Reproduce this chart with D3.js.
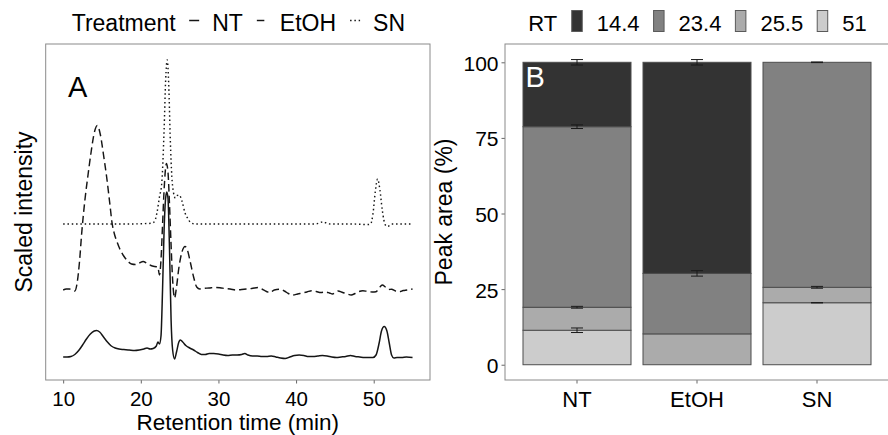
<!DOCTYPE html>
<html>
<head>
<meta charset="utf-8">
<script src="https://cdn.jsdelivr.net/npm/d3@7"></script>
<style>
  html, body { margin: 0; padding: 0; background: #fff; }
  svg text { font-family: "Liberation Sans", Arial, Helvetica, sans-serif; fill: #000; }
</style>
</head>
<body>
<svg id="chart" width="888" height="435"></svg>
<script>
// ---------- Panel A: chromatograms (scaled intensity, traces stacked by offset) ----------
const treatments = ["NT", "EtOH", "SN"];
const timeTicks = [10, 20, 30, 40, 50];

// [retention time (min), scaled intensity]
const ntTrace = [
  [10.0, 0], [10.5, 0], [11.0, 0.005], [11.5, 0.025], [12.0, 0.065], [12.5, 0.12],
  [13.0, 0.18], [13.5, 0.23], [14.0, 0.26], [14.3, 0.265], [14.7, 0.25], [15.2, 0.20],
  [15.7, 0.15], [16.2, 0.11], [16.7, 0.09], [17.2, 0.08], [17.8, 0.075], [18.5, 0.07],
  [19.2, 0.065], [19.8, 0.07], [20.4, 0.08], [20.8, 0.09], [21.2, 0.08], [21.6, 0.085],
  [22.0, 0.11], [22.2, 0.15], [22.4, 0.13], [22.6, 0.21], [22.8, 0.67], [23.0, 1.27],
  [23.2, 1.59], [23.35, 1.65], [23.5, 1.59], [23.7, 1.07], [23.9, 0.37], [24.1, 0.07],
  [24.35, -0.02], [24.6, 0.05], [24.9, 0.15], [25.1, 0.17], [25.4, 0.15], [25.8, 0.115],
  [26.3, 0.09], [26.8, 0.07], [27.3, 0.045], [27.8, 0.025], [28.3, 0.025], [28.8, 0.035],
  [29.4, 0.035], [30.0, 0.03], [30.6, 0.02], [31.2, 0.015], [31.8, 0.02], [32.4, 0.02],
  [33.0, 0.025], [33.4, 0.035], [33.8, 0.02], [34.4, 0.01], [35.0, 0.01], [35.6, 0.005],
  [36.2, 0.005], [36.8, 0.01], [37.4, 0], [38.0, -0.01], [38.6, -0.015], [39.2, 0],
  [39.8, 0.015], [40.4, 0.02], [41.0, 0.015], [41.6, 0.005], [42.2, 0.005], [42.8, 0.01],
  [43.4, 0.015], [44.0, 0.01], [44.6, 0], [45.2, -0.005], [45.8, 0], [46.4, 0.005],
  [47.0, 0.015], [47.6, 0.005], [48.2, 0], [48.8, -0.005], [49.4, -0.005], [49.9, -0.005],
  [50.3, 0.02], [50.7, 0.14], [51.0, 0.26], [51.35, 0.305], [51.7, 0.26], [52.0, 0.14],
  [52.3, 0.02], [52.6, -0.01], [53.0, -0.005], [53.6, -0.005], [54.2, 0], [55.0, -0.005]
];

const etohTrace = [
  [10.0, 0.67], [10.4, 0.68], [10.8, 0.68], [11.2, 0.67], [11.5, 0.66], [11.8, 0.74],
  [12.1, 0.95], [12.4, 1.25], [12.8, 1.57], [13.2, 1.82], [13.6, 2.05], [14.0, 2.24],
  [14.4, 2.315], [14.8, 2.22], [15.2, 2.02], [15.6, 1.80], [16.0, 1.54], [16.3, 1.34],
  [16.6, 1.23], [16.9, 1.16], [17.3, 1.08], [17.8, 1.01], [18.3, 0.96], [18.8, 0.93],
  [19.3, 0.925], [19.8, 0.94], [20.3, 0.955], [20.8, 0.935], [21.3, 0.915], [21.8, 0.905],
  [22.2, 0.90], [22.4, 0.82], [22.6, 0.97], [22.8, 1.32], [23.0, 1.67], [23.3, 1.935],
  [23.5, 1.85], [23.7, 1.52], [23.9, 1.12], [24.1, 0.77], [24.35, 0.59], [24.6, 0.70],
  [24.9, 0.89], [25.3, 1.05], [25.7, 1.105], [26.0, 1.07], [26.4, 0.94], [26.8, 0.80],
  [27.2, 0.70], [27.6, 0.68], [28.1, 0.687], [28.8, 0.69], [29.5, 0.695], [30.2, 0.693],
  [30.8, 0.685], [31.5, 0.68], [32.3, 0.67], [33.0, 0.675], [33.6, 0.68], [34.3, 0.685],
  [35.1, 0.695], [35.7, 0.675], [36.2, 0.655], [36.6, 0.643], [37.2, 0.67], [37.9, 0.677],
  [38.5, 0.66], [39.0, 0.635], [39.6, 0.62], [40.2, 0.63], [40.8, 0.64], [41.4, 0.65],
  [42.0, 0.663], [42.6, 0.655], [43.2, 0.645], [43.8, 0.65], [44.3, 0.64], [44.7, 0.63],
  [45.4, 0.66], [46.0, 0.645], [46.6, 0.63], [47.1, 0.62], [47.6, 0.635], [48.1, 0.655],
  [48.6, 0.663], [49.2, 0.655], [49.8, 0.65], [50.3, 0.653], [50.7, 0.69], [51.1, 0.72],
  [51.5, 0.70], [51.9, 0.675], [52.3, 0.677], [52.8, 0.66], [53.3, 0.653], [53.8, 0.665],
  [54.3, 0.67], [54.8, 0.677], [55.0, 0.68]
];

const snTrace = [
  [10.0, 1.33], [14.0, 1.33], [18.0, 1.33], [21.0, 1.335], [21.5, 1.34], [21.8, 1.36],
  [22.1, 1.45], [22.4, 1.60], [22.7, 1.74], [23.0, 2.27], [23.2, 2.77], [23.4, 2.97],
  [23.6, 2.72], [23.8, 2.17], [24.0, 1.80], [24.2, 1.65], [24.45, 1.59], [24.7, 1.615],
  [24.95, 1.62], [25.3, 1.56], [25.7, 1.44], [26.1, 1.38], [26.4, 1.345], [27.0, 1.33],
  [32.0, 1.33], [38.0, 1.33], [42.5, 1.33], [43.0, 1.34], [43.5, 1.353], [44.0, 1.335],
  [44.5, 1.33], [47.0, 1.33], [49.3, 1.325], [49.6, 1.33], [49.9, 1.43], [50.2, 1.65],
  [50.5, 1.78], [50.8, 1.67], [51.1, 1.47], [51.5, 1.32], [51.8, 1.305], [52.3, 1.33],
  [55.0, 1.33]
];

// ---------- Panel B: relative peak area (%) per retention-time peak ----------
const rtLabels = ["14.4", "23.4", "25.5", "51"];
const area14_4 = [21.3, 69.8, 0];
const area23_4 = [59.7, 20.0, 74.4];
const area25_5 = [7.6, 10.2, 5.1];
const area51   = [11.4, 0, 20.5];
// standard errors (null = no error bar)
const err14_4 = [0.9, 0.9, null];
const err23_4 = [0.6, 0.9, 0.1];
const err25_5 = [0.3, null, 0.3];
const err51   = [0.75, null, 0.05];
const areaTicks = [0, 25, 50, 75, 100];

const rtFill = ["#333333", "#818181", "#ababab", "#cccccc"];

const svg = d3.select("#chart");
const FONT_TICK = 20.5, FONT_TITLE = 22.5;
const borderColor = "#8a8a8a";
const lineColor = "#151515";

// ======================= Panel A =======================
const pA = { left: 45.7, right: 430, top: 44, bottom: 380 };
const xA = d3.scaleLinear().domain([7.75, 57.25]).range([pA.left, pA.right]);
const yA = d3.scaleLinear().domain([-0.23, 3.13]).range([pA.bottom, pA.top]);

const traces = [
  { name: "NT", data: ntTrace, dash: null, width: 1.5 },
  { name: "EtOH", data: etohTrace, dash: "7.5,4", width: 1.45 },
  { name: "SN", data: snTrace, dash: "1.5,2.8", width: 1.45 }
];

const line = d3.line()
  .x(d => xA(d[0]))
  .y(d => yA(d[1]))
  .curve(d3.curveMonotoneX);

const gA = svg.append("g");
gA.selectAll("path.trace")
  .data(traces)
  .join("path")
  .attr("class", "trace")
  .attr("d", d => line(d.data))
  .attr("fill", "none")
  .attr("stroke", lineColor)
  .attr("stroke-width", d => d.width)
  .attr("stroke-dasharray", d => d.dash);

// x axis
const axA = gA.append("g")
  .attr("transform", `translate(0,${pA.bottom})`)
  .call(d3.axisBottom(xA).tickValues(timeTicks).tickSize(3.5).tickPadding(7.5).tickFormat(d3.format("d")));
axA.select(".domain").remove();
axA.selectAll(".tick line").attr("stroke", "#666");
axA.selectAll(".tick text").attr("font-size", FONT_TICK).attr("fill", "#000").attr("dy", "0.72em");

gA.append("rect")
  .attr("x", pA.left).attr("y", pA.top)
  .attr("width", pA.right - pA.left).attr("height", pA.bottom - pA.top)
  .attr("fill", "none").attr("stroke", borderColor).attr("stroke-width", 1);

gA.append("text").attr("x", 68).attr("y", 96.5).attr("font-size", 29).text("A");

svg.append("text")
  .attr("x", (pA.left + pA.right) / 2).attr("y", 430.3)
  .attr("text-anchor", "middle").attr("font-size", FONT_TITLE)
  .text("Retention time (min)");
svg.append("text")
  .attr("transform", `translate(31.5,${(pA.top + pA.bottom) / 2}) rotate(-90)`)
  .attr("text-anchor", "middle").attr("font-size", 23)
  .text("Scaled intensity");

// legend for line types
(function () {
  const g = svg.append("g");
  const baseY = 30.5, fs = 23;
  let x = 71.7;
  const title = g.append("text").attr("x", x).attr("y", baseY).attr("font-size", fs).text("Treatment");
  x += title.node().getComputedTextLength() + 13.5;
  traces.forEach(tr => {
    g.append("line")
      .attr("x1", x).attr("x2", x + 10).attr("y1", 20.5).attr("y2", 20.5)
      .attr("stroke", lineColor).attr("stroke-width", tr.width)
      .attr("stroke-dasharray", tr.dash);
    const t = g.append("text").attr("x", x + 23).attr("y", baseY).attr("font-size", fs).text(tr.name);
    x += 23 + t.node().getComputedTextLength() + 14;
  });
})();

// ======================= Panel B =======================
const pB = { left: 505, right: 889, top: 44, bottom: 380 };
const xB = d3.scaleBand().domain(treatments).range([pB.left, pB.right]).paddingInner(0.1).paddingOuter(0.15);
const yB = d3.scaleLinear().domain([-5.05, 106.05]).range([pB.bottom, pB.top]);

// bottom-to-top stacking order
const stackKeys = ["51", "25.5", "23.4", "14.4"];
const areaByRt = { "14.4": area14_4, "23.4": area23_4, "25.5": area25_5, "51": area51 };
const errByRt = { "14.4": err14_4, "23.4": err23_4, "25.5": err25_5, "51": err51 };
const fillByRt = {};
rtLabels.forEach((k, i) => fillByRt[k] = rtFill[i]);

const table = treatments.map((t, i) => {
  const row = { treatment: t };
  stackKeys.forEach(k => row[k] = areaByRt[k][i]);
  return row;
});
const stacked = d3.stack().keys(stackKeys)(table);

const gB = svg.append("g");
stacked.forEach(layer => {
  gB.append("g").selectAll("rect")
    .data(layer.filter(d => d[1] - d[0] > 0))
    .join("rect")
    .attr("x", d => xB(d.data.treatment))
    .attr("width", xB.bandwidth())
    .attr("y", d => yB(d[1]))
    .attr("height", d => yB(d[0]) - yB(d[1]))
    .attr("fill", fillByRt[layer.key])
    .attr("stroke", "#4d4d4d")
    .attr("stroke-width", 1);
});

// error bars at each cumulative segment top
stacked.forEach(layer => {
  const errs = errByRt[layer.key];
  layer.forEach((d, i) => {
    const e = errs[i];
    if (e == null) return;
    const cx = xB(d.data.treatment) + xB.bandwidth() / 2;
    const top = yB(d[1] + e), bot = yB(d[1] - e);
    const g = gB.append("g").attr("stroke", "#1a1a1a").attr("stroke-width", 1);
    g.append("line").attr("x1", cx).attr("x2", cx).attr("y1", top).attr("y2", bot);
    g.append("line").attr("x1", cx - 6).attr("x2", cx + 6).attr("y1", top).attr("y2", top);
    g.append("line").attr("x1", cx - 6).attr("x2", cx + 6).attr("y1", bot).attr("y2", bot);
  });
});

const axBx = gB.append("g")
  .attr("transform", `translate(0,${pB.bottom})`)
  .call(d3.axisBottom(xB).tickSize(3.5).tickPadding(8));
axBx.select(".domain").remove();
axBx.selectAll(".tick line").attr("stroke", "#666");
axBx.selectAll(".tick text").attr("font-size", 22).attr("fill", "#000").attr("dy", "0.72em");

const axBy = gB.append("g")
  .attr("transform", `translate(${pB.left},0)`)
  .call(d3.axisLeft(yB).tickValues(areaTicks).tickSize(3.5).tickPadding(3));
axBy.select(".domain").remove();
axBy.selectAll(".tick line").attr("stroke", "#666");
axBy.selectAll(".tick text").attr("font-size", 21).attr("fill", "#000").attr("dy", "0.38em");

gB.append("rect")
  .attr("x", pB.left).attr("y", pB.top)
  .attr("width", pB.right - pB.left).attr("height", pB.bottom - pB.top)
  .attr("fill", "none").attr("stroke", borderColor).attr("stroke-width", 1);

gB.append("text").attr("x", 525.5).attr("y", 87).attr("font-size", 29).style("fill", "#fff").text("B");

svg.append("text")
  .attr("transform", `translate(451.5,${(pB.top + pB.bottom) / 2}) rotate(-90)`)
  .attr("text-anchor", "middle").attr("font-size", 23)
  .text("Peak area (%)");

// legend for fills
(function () {
  const g = svg.append("g");
  const baseY = 30.5, fs = 22;
  let x = 528.3;
  const title = g.append("text").attr("x", x).attr("y", baseY).attr("font-size", fs).text("RT");
  x += title.node().getComputedTextLength() + 14.5;
  rtLabels.forEach((k, i) => {
    g.append("rect")
      .attr("x", x).attr("y", 10.5).attr("width", 10.5).attr("height", 21)
      .attr("fill", rtFill[i]).attr("stroke", "#5a5a5a").attr("stroke-width", 1);
    const t = g.append("text").attr("x", x + 25).attr("y", baseY).attr("font-size", fs).text(k);
    x += 25 + t.node().getComputedTextLength() + 14;
  });
})();
</script>
</body>
</html>
